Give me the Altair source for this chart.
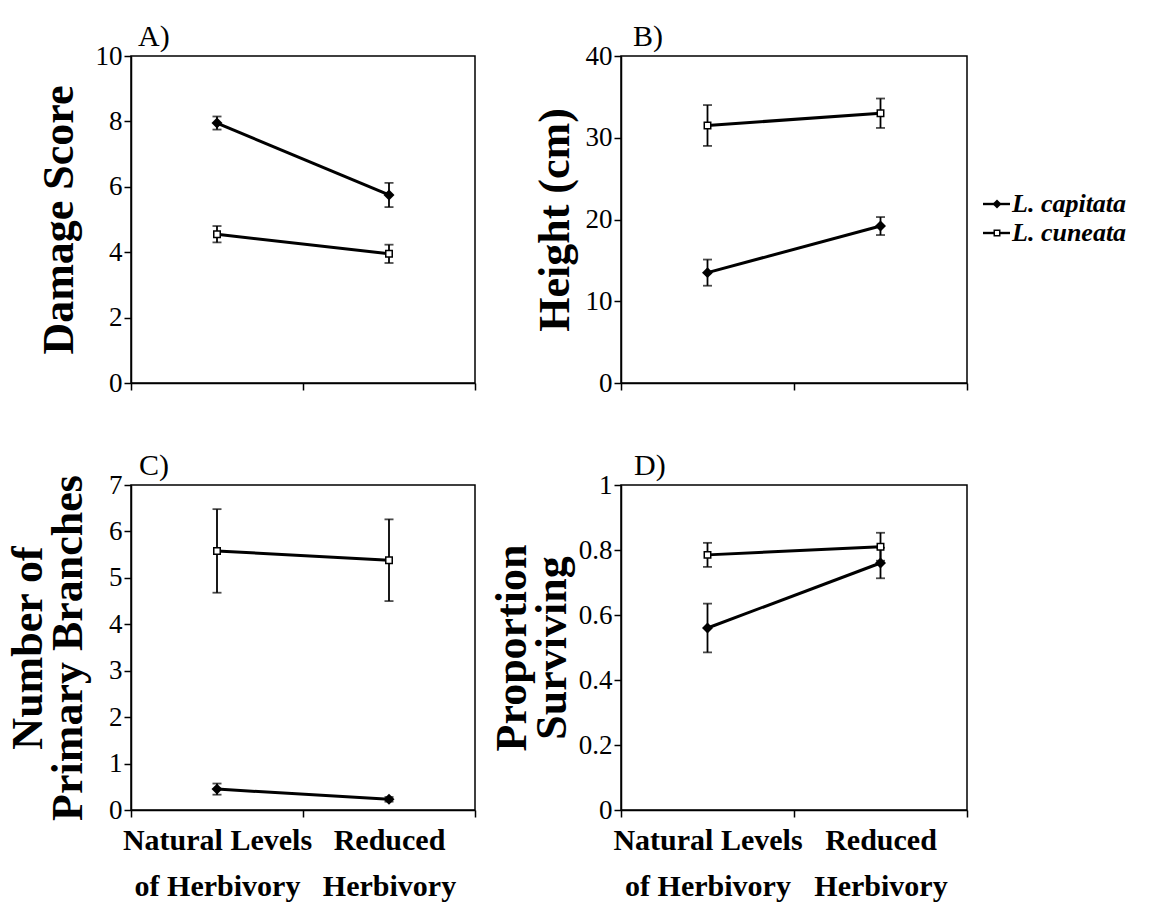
import json
import altair as alt
import pandas as pd

# ---------------- data ----------------
species = ["L. capitata", "L. cuneata"]
treatment_lines = [["Natural Levels", "of Herbivory"], ["Reduced", "Herbivory"]]

damage_cap = [7.95, 5.75]
damage_cap_err = [0.20, 0.37]
damage_cun = [4.55, 3.95]
damage_cun_err = [0.25, 0.28]

height_cap = [13.5, 19.2]
height_cap_err = [1.6, 1.1]
height_cun = [31.5, 33.0]
height_cun_err = [2.5, 1.8]

branch_cap = [0.45, 0.23]
branch_cap_err = [0.12, 0.05]
branch_cun = [5.58, 5.38]
branch_cun_err = [0.90, 0.88]

surv_cap = [0.56, 0.76]
surv_cap_err = [0.075, 0.047]
surv_cun = [0.785, 0.81]
surv_cun_err = [0.037, 0.043]

SERIF = "Liberation Serif, Times New Roman, DejaVu Serif, serif"


def make_df(cap, cap_err, cun, cun_err):
    rows = []
    for sp, means, errs in [(species[0], cap, cap_err), (species[1], cun, cun_err)]:
        for i, (m, e) in enumerate(zip(means, errs)):
            rows.append({"species": sp, "pos": i + 0.5, "mean": m,
                         "lo": m - e, "hi": m + e})
    return pd.DataFrame(rows)


label_expr = ("datum.value == 0.5 ? " + json.dumps(treatment_lines[0]) +
              " : (datum.value == 1.5 ? " + json.dumps(treatment_lines[1]) + " : '')")


def panel(df, letter, ytitle, ymax, ystep, w, h, show_x, title_pad, letter_dx,
          legend=False):
    n = int(round(ymax / ystep))
    yvals = [round(k * ystep, 6) for k in range(n + 1)]
    xaxis = alt.Axis(
        values=[0, 0.5, 1, 1.5, 2], title=None, grid=False,
        tickSize=7, tickWidth=1.5, tickColor="black",
        tickOpacity={"condition": {"test": "datum.value % 1 === 0", "value": 1}, "value": 0},
        domainColor="black", domainWidth=1.5,
        labels=show_x, labelExpr=label_expr, labelOverlap=False, labelFlush=False,
        labelLimit=0,
        labelFont=SERIF, labelFontSize=30, labelFontWeight="bold", labelColor="black",
        labelLineHeight=46, labelPadding=8,
    )
    yaxis = alt.Axis(
        values=yvals, title=ytitle, grid=False, format="~r",
        tickSize=7, tickWidth=1.5, tickColor="black",
        domainColor="black", domainWidth=1.5,
        labelFont=SERIF, labelFontSize=27, labelColor="black", labelPadding=2,
        titleFont=SERIF, titleFontSize=44, titleFontWeight="bold", titleColor="black",
        titlePadding=title_pad, titleLineHeight=40,
    )
    xs = alt.Scale(domain=[0, 2], nice=False, zero=False)
    ys = alt.Scale(domain=[0, ymax], nice=False)
    X = alt.X("pos:Q", scale=xs, axis=xaxis)
    base = alt.Chart(df)
    line = base.mark_line(color="black", strokeWidth=3).encode(
        x=X, y=alt.Y("mean:Q", scale=ys, axis=yaxis), detail="species:N")
    bars = base.mark_rule(color="black", strokeWidth=1.8).encode(
        x=X, y=alt.Y("lo:Q", scale=ys, axis=yaxis), y2="hi:Q")
    cap_lo = base.mark_tick(color="black", thickness=1.8, size=9, orient="horizontal").encode(
        x=X, y=alt.Y("lo:Q", scale=ys, axis=yaxis))
    cap_hi = base.mark_tick(color="black", thickness=1.8, size=9, orient="horizontal").encode(
        x=X, y=alt.Y("hi:Q", scale=ys, axis=yaxis))
    pts_cap = base.transform_filter(alt.datum.species == species[0]).mark_point(
        shape="diamond", size=120, filled=True, color="black", opacity=1).encode(
        x=X, y=alt.Y("mean:Q", scale=ys, axis=yaxis))
    pts_cun = base.transform_filter(alt.datum.species == species[1]).mark_point(
        shape="square", size=42, fill="white", stroke="black", strokeWidth=1.5,
        opacity=1, filled=False).encode(
        x=X, y=alt.Y("mean:Q", scale=ys, axis=yaxis))
    layers = [line, bars, cap_lo, cap_hi, pts_cap, pts_cun]

    if legend:
        one = alt.Chart(pd.DataFrame({"k": [0]}))
        for i, sp in enumerate(species):
            yy = 148 + i * 29
            layers.append(one.mark_rule(color="black", strokeWidth=2.4).encode(
                x=alt.value(362), x2=alt.value(389), y=alt.value(yy)))
            if i == 0:
                layers.append(one.mark_point(shape="diamond", size=80, filled=True,
                                             color="black", opacity=1).encode(
                    x=alt.value(376), y=alt.value(yy)))
            else:
                layers.append(one.mark_point(shape="square", size=30, fill="white",
                                             stroke="black", strokeWidth=1.5, opacity=1).encode(
                    x=alt.value(376), y=alt.value(yy)))
            layers.append(one.mark_text(align="left", baseline="middle", font=SERIF,
                                        fontSize=26, fontStyle="italic", fontWeight="bold",
                                        color="black").encode(
                x=alt.value(391), y=alt.value(yy), text=alt.value(sp)))

    return alt.layer(*layers).properties(
        width=w, height=h,
        title=alt.TitleParams(text=letter, anchor="start", frame="group", font=SERIF,
                              fontSize=30, fontWeight="normal", color="black",
                              dx=letter_dx, offset=-10),
    )


A = panel(make_df(damage_cap, damage_cap_err, damage_cun, damage_cun_err),
          "A)", "Damage Score", 10, 2, 344, 327, False, 14, 7)
B = panel(make_df(height_cap, height_cap_err, height_cun, height_cun_err),
          "B)", "Height (cm)", 40, 10, 346, 327, False, 8, 12, legend=True)
C = panel(make_df(branch_cap, branch_cap_err, branch_cun, branch_cun_err),
          "C)", ["Number of", "Primary Branches"], 7, 1, 344, 325, True, 18, 8)
D = panel(make_df(surv_cap, surv_cap_err, surv_cun, surv_cun_err),
          "D)", ["Proportion", "Surviving"], 1, 0.2, 346, 325, True, 4, 13)

chart = alt.concat(A, B, C, D, columns=2, spacing={"row": 53, "column": 12}).properties(
    padding={"left": 5, "top": 21, "right": 0, "bottom": 0},
    background="white",
).configure_view(stroke="black", strokeWidth=1.5)

chart.save("out.html", embed_options={"renderer": "svg", "actions": False})
